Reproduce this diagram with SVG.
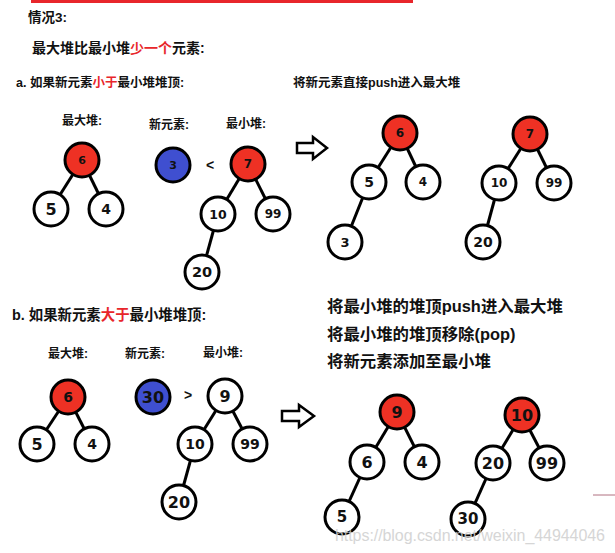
<svg xmlns="http://www.w3.org/2000/svg" width="615" height="553" viewBox="0 0 615 553">
<style>
.t{font-family:"Liberation Sans","Noto Sans CJK SC",sans-serif;font-weight:bold;fill:#111}
.r{fill:#e8262b}
.e line{stroke:#000;stroke-width:3}
.n circle{stroke:#000;stroke-width:3;fill:#fff}
.n.red circle{fill:#ee3124}
.n.blue circle{fill:#3f4fd0}
.n text{font-family:"DejaVu Sans",sans-serif;font-weight:bold;text-anchor:middle;dominant-baseline:central;fill:#111}
.ar{fill:#fff;stroke:#000;stroke-width:2.5;stroke-linejoin:miter}
</style>
<rect x="0" y="0" width="615" height="553" fill="#fff"/>
<rect x="31" y="0" width="382" height="3" fill="#e8262b"/>
<line x1="593" y1="495" x2="615" y2="495" stroke="#b07080" stroke-width="1"/>

<g id="titles">
<text class="t" x="28" y="22" font-size="13.5">情况3:</text>
<text class="t" x="32" y="53" font-size="14">最大堆比最小堆<tspan class="r">少一个</tspan>元素:</text>
<text class="t" x="16" y="87" font-size="12.5">a. 如果新元素<tspan class="r">小于</tspan>最小堆堆顶:</text>
<text class="t" x="293" y="87" font-size="12.5">将新元素直接push进入最大堆</text>
<text class="t" x="62" y="125" font-size="12">最大堆:</text>
<text class="t" x="149" y="129" font-size="12">新元素:</text>
<text class="t" x="226" y="128" font-size="12">最小堆:</text>
<text class="t" x="210" y="170" font-size="14" text-anchor="middle">&lt;</text>
<text class="t" x="12" y="320" font-size="14.4">b. 如果新元素<tspan class="r">大于</tspan>最小堆堆顶:</text>
<text class="t" x="48" y="358" font-size="12">最大堆:</text>
<text class="t" x="125" y="358" font-size="12">新元素:</text>
<text class="t" x="203" y="357" font-size="12">最小堆:</text>
<text class="t" x="188" y="400" font-size="14" text-anchor="middle">&gt;</text>
<text class="t" x="327" y="312" font-size="16.4">将最小堆的堆顶push进入最大堆</text>
<text class="t" x="327" y="340" font-size="16.4">将最小堆的堆顶移除(pop)</text>
<text class="t" x="327" y="367" font-size="16.4">将新元素添加至最小堆</text>
</g>

<g id="arrows">
<polygon class="ar" points="297,143 313,143 313,137 327,148 313,159 313,153 297,153"/>
<polygon class="ar" points="282,411 299,411 299,405 314,416 299,427 299,421 282,421"/>
</g>

<g id="connectors" class="e">
<line x1="82" y1="160" x2="51" y2="209"/>
<line x1="82" y1="160" x2="106" y2="209"/>
<line x1="248" y1="164" x2="218" y2="214"/>
<line x1="248" y1="164" x2="273" y2="214"/>
<line x1="218" y1="214" x2="202" y2="272"/>
<line x1="400" y1="133" x2="369" y2="182"/>
<line x1="400" y1="133" x2="423" y2="182"/>
<line x1="369" y1="182" x2="345" y2="242"/>
<line x1="530" y1="134" x2="499" y2="183"/>
<line x1="530" y1="134" x2="554" y2="183"/>
<line x1="499" y1="183" x2="483" y2="242"/>
<line x1="68" y1="397" x2="37" y2="444"/>
<line x1="68" y1="397" x2="92" y2="444"/>
<line x1="225" y1="396" x2="195" y2="444"/>
<line x1="225" y1="396" x2="250" y2="444"/>
<line x1="195" y1="444" x2="179" y2="502"/>
<line x1="397" y1="412" x2="367" y2="462"/>
<line x1="397" y1="412" x2="422" y2="462"/>
<line x1="367" y1="462" x2="342" y2="517"/>
<line x1="522" y1="415" x2="493" y2="463"/>
<line x1="522" y1="415" x2="547" y2="463"/>
<line x1="493" y1="463" x2="468" y2="519"/>
</g>

<g id="a-max6" class="n red"><circle cx="82" cy="160" r="17"/><text x="82" y="160" font-size="11">6</text></g>
<g id="a-max5" class="n"><circle cx="51" cy="209" r="17"/><text x="51" y="209" font-size="16">5</text></g>
<g id="a-max4" class="n"><circle cx="106" cy="209" r="17"/><text x="106" y="209" font-size="14">4</text></g>
<g id="a-new3" class="n blue"><circle cx="173" cy="165" r="17"/><text x="173" y="165" font-size="11">3</text></g>
<g id="a-min7" class="n red"><circle cx="248" cy="164" r="17"/><text x="248" y="164" font-size="12">7</text></g>
<g id="a-min10" class="n"><circle cx="218" cy="214" r="17"/><text x="218" y="214" font-size="12.5">10</text></g>
<g id="a-min99" class="n"><circle cx="273" cy="214" r="17"/><text x="273" y="214" font-size="12">99</text></g>
<g id="a-min20" class="n"><circle cx="202" cy="272" r="17"/><text x="202" y="272" font-size="14.5">20</text></g>

<g id="ra-max6" class="n red"><circle cx="400" cy="133" r="17"/><text x="400" y="133" font-size="12">6</text></g>
<g id="ra-max5" class="n"><circle cx="369" cy="182" r="17"/><text x="369" y="182" font-size="14">5</text></g>
<g id="ra-max4" class="n"><circle cx="423" cy="182" r="17"/><text x="423" y="182" font-size="12">4</text></g>
<g id="ra-max3" class="n"><circle cx="345" cy="242" r="17"/><text x="345" y="242" font-size="13">3</text></g>
<g id="ra-min7" class="n red"><circle cx="530" cy="134" r="17"/><text x="530" y="134" font-size="12">7</text></g>
<g id="ra-min10" class="n"><circle cx="499" cy="183" r="17"/><text x="499" y="183" font-size="12">10</text></g>
<g id="ra-min99" class="n"><circle cx="554" cy="183" r="17"/><text x="554" y="183" font-size="12">99</text></g>
<g id="ra-min20" class="n"><circle cx="483" cy="242" r="17"/><text x="483" y="242" font-size="14">20</text></g>

<g id="b-max6" class="n red"><circle cx="68" cy="397" r="17"/><text x="68" y="397" font-size="14">6</text></g>
<g id="b-max5" class="n"><circle cx="37" cy="444" r="17"/><text x="37" y="444" font-size="16">5</text></g>
<g id="b-max4" class="n"><circle cx="92" cy="444" r="17"/><text x="92" y="444" font-size="14">4</text></g>
<g id="b-new30" class="n blue"><circle cx="153" cy="397" r="17"/><text x="153" y="397" font-size="16">30</text></g>
<g id="b-min9" class="n"><circle cx="225" cy="396" r="17"/><text x="225" y="396" font-size="16">9</text></g>
<g id="b-min10" class="n"><circle cx="195" cy="444" r="17"/><text x="195" y="444" font-size="14">10</text></g>
<g id="b-min99" class="n"><circle cx="250" cy="444" r="17"/><text x="250" y="444" font-size="14">99</text></g>
<g id="b-min20" class="n"><circle cx="179" cy="502" r="17"/><text x="179" y="502" font-size="16">20</text></g>

<g id="rb-max9" class="n red"><circle cx="397" cy="412" r="17"/><text x="397" y="412" font-size="16">9</text></g>
<g id="rb-max6" class="n"><circle cx="367" cy="462" r="17"/><text x="367" y="462" font-size="16">6</text></g>
<g id="rb-max4" class="n"><circle cx="422" cy="462" r="17"/><text x="422" y="462" font-size="16">4</text></g>
<g id="rb-max5" class="n"><circle cx="342" cy="517" r="17"/><text x="342" y="517" font-size="15">5</text></g>
<g id="rb-min10" class="n red"><circle cx="522" cy="415" r="17"/><text x="522" y="415" font-size="16">10</text></g>
<g id="rb-min20" class="n"><circle cx="493" cy="463" r="17"/><text x="493" y="463" font-size="16">20</text></g>
<g id="rb-min99" class="n"><circle cx="547" cy="463" r="17"/><text x="547" y="463" font-size="16">99</text></g>
<g id="rb-min30" class="n"><circle cx="468" cy="519" r="17"/><text x="468" y="519" font-size="15">30</text></g>

<text x="335" y="541" font-family="Liberation Sans, sans-serif" font-size="16" fill="#cfcfcf" opacity="0.85" textLength="270">https://blog.csdn.net/weixin_44944046</text>
</svg>
